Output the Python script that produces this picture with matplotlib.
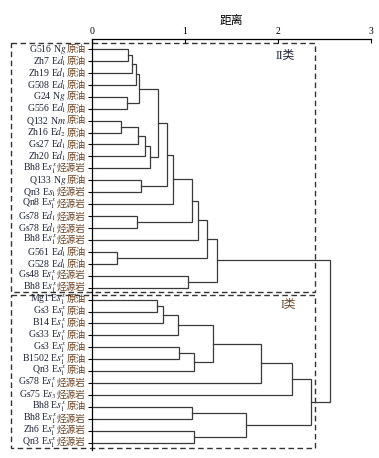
import matplotlib
matplotlib.use("Agg")
import matplotlib.pyplot as plt
import matplotlib.patches as patches
from matplotlib.offsetbox import TextArea, HPacker, AnnotationBbox

plt.rcParams['mathtext.fontset'] = 'stix'
plt.rcParams['font.family'] = ['Liberation Serif', 'Noto Sans CJK SC']

# ===== 样品 (自上而下的叶节点顺序) =====
names = ["G516", "Zh7", "Zh19", "G508", "G24", "G556", "Q132", "Zh16", "Gs27", "Zh20",
         "Bh8", "Q133", "Qn3", "Qn8", "Gs78", "Gs78", "Bh8", "G561", "G528", "Gs48", "Bh8",
         "Mg1", "Gs3", "B14", "Gs33", "Gs3", "B1502", "Qn3", "Gs78", "Gs75", "Bh8", "Bh8",
         "Zh6", "Qn3"]
formations = [r"N$g$", r"E$d_1$", r"E$d_1$", r"E$d_1$", r"N$g$", r"E$d_1$", r"N$m$", r"E$d_2$",
              r"E$d_1$", r"E$d_1$", r"E$s_1^x$", r"N$g$", r"E$s_1$", r"E$s_1^x$", r"E$d_1$",
              r"E$d_1$", r"E$s_1^x$", r"E$d_1$", r"E$d_1$", r"E$s_1^x$", r"E$s_1^x$",
              r"E$s_1^x$", r"E$s_1^x$", r"E$s_1^x$", r"E$s_1^x$", r"E$s_1^x$", r"E$s_1^x$",
              r"E$s_1^x$", r"E$s_1^x$", r"E$s_3$", r"E$s_1^x$", r"E$s_1^x$", r"E$s_1^x$",
              r"E$s_1^x$"]
kinds = ["原油"] * 10 + ["烃源岩", "原油", "烃源岩", "烃源岩", "烃源岩", "烃源岩", "烃源岩",
         "原油", "原油", "烃源岩", "烃源岩"] + ["原油"] * 7 + ["烃源岩", "烃源岩", "原油",
         "烃源岩", "烃源岩", "烃源岩"]

# ===== 聚类合并 (节点编号: 0-33 为样品, 34 起为合并节点) =====
merge_a = [0, 34, 35, 4, 36, 6, 39, 40, 41, 38, 11, 43, 45, 14, 46, 48, 17, 49, 19, 51,
           21, 54, 55, 25, 57, 56, 59, 60, 30, 32, 62, 61, 53]
merge_b = [1, 2, 3, 5, 37, 7, 8, 9, 10, 42, 12, 44, 13, 15, 47, 16, 18, 50, 20, 52,
           22, 23, 24, 26, 27, 58, 28, 29, 31, 33, 63, 64, 65]
merge_h = [0.39, 0.427, 0.47, 0.376, 0.509, 0.315, 0.491, 0.57, 0.62, 0.706, 0.524, 0.806,
           0.874, 0.487, 1.072, 1.136, 0.265, 1.233, 1.029, 1.341,
           0.695, 0.76, 0.92, 0.94, 1.10, 1.30, 1.82, 2.15, 1.08, 1.10, 1.66, 2.35, 2.56]

latin_color = "#1e2236"
cjk_color = "#6a4326"
line_color = "#3a3a3a"

fig = plt.figure(figsize=(3.79, 4.58), dpi=100)
ax = fig.add_axes([0.2427, 0.0175, 0.7362, 0.8984])

n = len(names)
ypos = list(range(n))
xpos = [0.0] * n
for a, b, h in zip(merge_a, merge_b, merge_h):
    ya, yb = ypos[a], ypos[b]
    xa, xb = xpos[a], xpos[b]
    ax.plot([xa, h, h, xb], [ya, ya, yb, yb], color=line_color, lw=0.9,
            solid_joinstyle='miter', clip_on=False)
    ypos.append((ya + yb) / 2)
    xpos.append(h)

# 样品标签
for i, (nm, fm, kd) in enumerate(zip(names, formations, kinds)):
    t1 = TextArea(f"{nm} {fm}", textprops=dict(size=7.0, color=latin_color))
    t2 = TextArea(kd, textprops=dict(size=6.9, color=cjk_color, family=['Noto Sans CJK SC']))
    box = HPacker(children=[t1, t2], align='baseline', pad=0, sep=0.3)
    ab = AnnotationBbox(box, (0, i), xybox=(-4.3, 0), xycoords='data',
                        boxcoords='offset points', box_alignment=(1, 0.5),
                        frameon=False, pad=0, annotation_clip=False)
    ax.add_artist(ab)

# 分类虚线框
box_kw = dict(fill=False, ec="#333333", lw=1.0, ls=(0, (4, 2.5)), clip_on=False)
ax.add_patch(patches.Rectangle((-0.87, -0.48), 3.27, 20.88, **box_kw))
ax.add_patch(patches.Rectangle((-0.87, 20.62), 3.27, 12.82, **box_kw))
ax.text(2.08, 0.5, "II类", fontsize=8.5, color=latin_color, ha='center', va='center')
ax.text(2.11, 21.4, "I类", fontsize=8.5, color=cjk_color, ha='center', va='center')

ax.set_xlim(0, 3)
ax.set_ylim(33.6, -0.88)
ax.xaxis.tick_top()
ax.xaxis.set_label_position('top')
ax.set_xticks([0, 1, 2, 3])
ax.tick_params(axis='x', direction='in', length=3, width=0.8, labelsize=7, pad=2)
ax.set_yticks(range(n))
ax.set_yticklabels([])
ax.tick_params(axis='y', direction='out', length=3, width=0.8)
ax.set_xlabel("距离", fontsize=8.5, family=['Noto Sans CJK SC'], labelpad=2)
for s in ['right', 'bottom']:
    ax.spines[s].set_visible(False)
for s in ['top', 'left']:
    ax.spines[s].set_linewidth(0.9)

fig.savefig("out.png", dpi=100)
